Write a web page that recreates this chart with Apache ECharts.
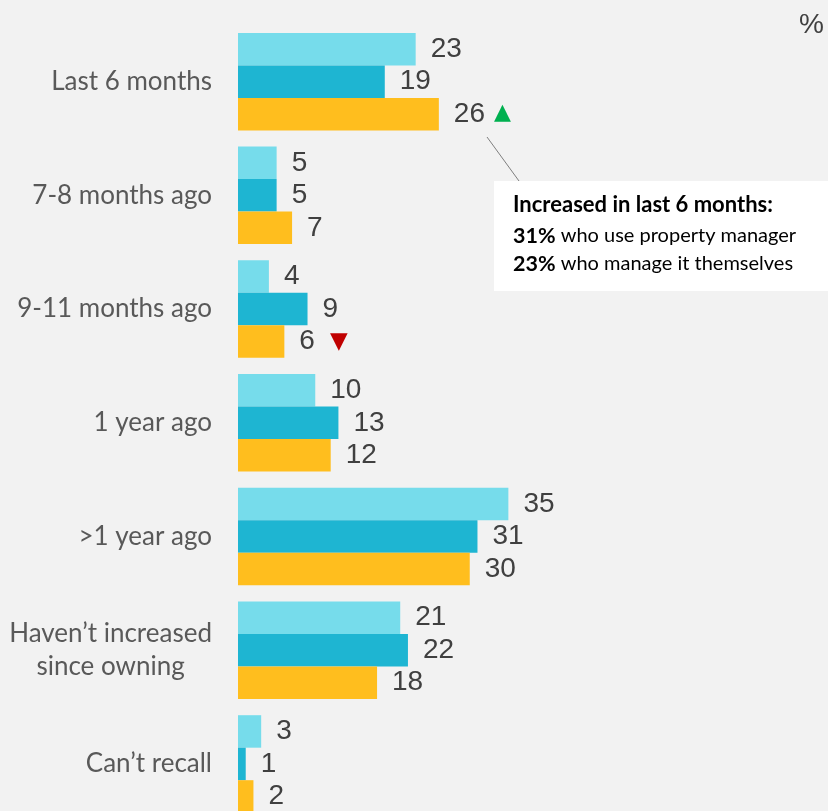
<!DOCTYPE html>
<html><head><meta charset="utf-8">
<script src="https://cdn.jsdelivr.net/npm/echarts@6/dist/echarts.min.js"></script>
<style>html,body{margin:0;padding:0;background:#f2f2f2;}#c{width:828px;height:811px;}</style>
</head><body><div id="c"></div>
<script>
const categories = ['Last 6 months','7-8 months ago','9-11 months ago','1 year ago','>1 year ago','Haven\u2019t increased\nsince owning','Can\u2019t recall'];
const seriesA = [23,5,4,10,35,21,3];
const seriesB = [19,5,9,13,31,22,1];
const seriesC = [26,7,6,12,30,18,2];
const markUp = [0];   // index in seriesC with significant increase
const markDown = [2]; // index in seriesC with significant decrease

const chart = echarts.init(document.getElementById('c'), null, {renderer:'canvas'});
const labelBase = {show:true, position:'right', distance:15, color:'#404040', fontSize:28, fontFamily:'Liberation Sans, Arial, sans-serif'};
function mkSeries(data, color, withMarks){
  return {
    type:'bar', data: data.map((v,i)=>{
      const item = {value:v};
      if (withMarks && markUp.includes(i)) item.label = {formatter:'{v|{c}}{u|▲}'};
      if (withMarks && markDown.includes(i)) item.label = {formatter:'{v|{c}}{d|▼}'};
      return item;
    }),
    barWidth:32.5, barGap:0, itemStyle:{color},
    label:Object.assign({}, labelBase, {rich:{
      v:{color:'#404040', fontSize:28, fontFamily:'Liberation Sans, Arial, sans-serif'},
      u:{color:'#00B050', fontSize:22, padding:[0,0,2,9], fontFamily:'DejaVu Sans'},
      d:{color:'#C00000', fontSize:23, padding:[0,0,0,15], fontFamily:'DejaVu Sans'}
    }}),
    silent:true, animation:false
  };
}
const catRich = {h:{align:'center', color:'#595959', fontSize:26, fontFamily:'Lato', lineHeight:33}};
chart.setOption({
  backgroundColor:'#f2f2f2',
  animation:false,
  grid:{left:238, top:24.8, width:309, height:796, outerBoundsMode:'none', containLabel:false},
  xAxis:{type:'value', min:0, max:40, show:false},
  yAxis:{type:'category', inverse:true, data:categories,
    axisLine:{show:false}, axisTick:{show:false}, splitLine:{show:false},
    axisLabel:{margin:26, color:'#595959', fontSize:26, fontFamily:'Lato',
      formatter:(v)=> v.indexOf('\n')>=0 ? '{h|'+v+'}' : v, rich:catRich}},
  series:[mkSeries(seriesA,'#76DCEB',false), mkSeries(seriesB,'#1EB5D2',false), mkSeries(seriesC,'#FFBE1E',true)],
  graphic:[
    {type:'text', left:799, top:11, style:{text:'%', fontSize:28, fill:'#404040', fontFamily:'Liberation Sans, Arial'}},
    {type:'line', shape:{x1:487, y1:137, x2:519, y2:181}, style:{stroke:'#7f7f7f', lineWidth:1}},
    {type:'rect', shape:{x:494, y:181, width:340, height:110}, style:{fill:'#ffffff'}},
    {type:'text', x:513, y:194, style:{text:'Increased in last 6 months:', font:'bold 22px Lato', fill:'#000000'}},
    {type:'text', x:513, y:225, style:{text:'{b|31%} who use property manager', fill:'#000', font:'20px Lato', rich:{b:{fontWeight:'bold', fontSize:21.5, fontFamily:'Lato'}}}},
    {type:'text', x:513, y:253, style:{text:'{b|23%} who manage it themselves', fill:'#000', font:'20px Lato', rich:{b:{fontWeight:'bold', fontSize:21.5, fontFamily:'Lato'}}}}
  ]
});
</script></body></html>
